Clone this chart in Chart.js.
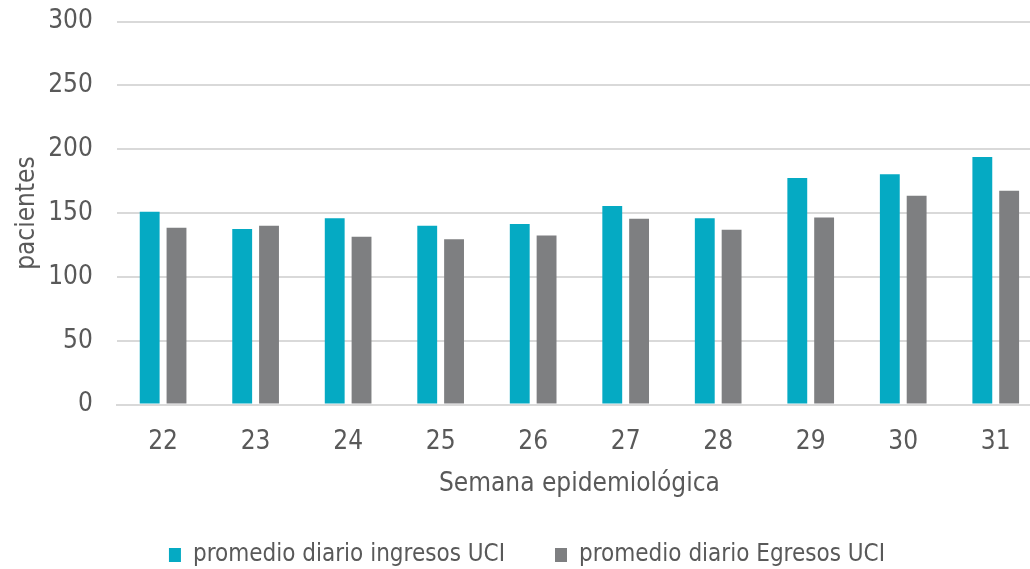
<!DOCTYPE html>
<html>
<head>
<meta charset="utf-8">
<script src="https://cdn.jsdelivr.net/npm/chart.js@4/dist/chart.umd.min.js"></script>
<style>
  html, body { margin: 0; padding: 0; background: #fff; overflow: hidden; }
  #wrap { position: relative; width: 1045px; height: 587px; margin-top: -18px; }
</style>
</head>
<body>
<div id="wrap"><canvas id="chart"></canvas></div>
<script>
const weeks = ["22", "23", "24", "25", "26", "27", "28", "29", "30", "31"];
const ingresos = [151, 137.5, 146, 140, 141.5, 155.5, 146, 177.5, 180.5, 194];
const egresos = [138.5, 140, 131.5, 129.5, 132.5, 145.5, 137, 146.5, 163.5, 167.5];
const yTicks = [0, 50, 100, 150, 200, 250, 300];

const FONT = "'Liberation Sans Narrow', 'DejaVu Sans Condensed', 'Open Sans', sans-serif";
const TEXT = "#595959";

const ctx = document.getElementById("chart").getContext("2d");
new Chart(ctx, {
  type: "bar",
  data: {
    labels: weeks,
    datasets: [
      {
        label: "promedio diario ingresos UCI",
        data: ingresos,
        backgroundColor: "#05aac3",
        barPercentage: 0.74,
        categoryPercentage: 0.58,
      },
      {
        label: "promedio diario Egresos UCI",
        data: egresos,
        backgroundColor: "#7e7f81",
        barPercentage: 0.74,
        categoryPercentage: 0.58,
      },
    ],
  },
  options: {
    responsive: true,
    maintainAspectRatio: false,
    animation: false,
    layout: { padding: { top: 0, right: 3, left: 12, bottom: -8 } },
    scales: {
      x: {
        grid: { display: false, drawTicks: false },
        border: { display: true, color: "#d9d9d9", width: 2 },
        ticks: { color: TEXT, font: { family: FONT, size: 26 }, padding: 22 },
        title: {
          display: true,
          text: "Semana epidemiológica",
          color: TEXT,
          font: { family: FONT, size: 26 },
          padding: { top: -11, bottom: -7 },
        },
      },
      y: {
        min: 0,
        max: 300,
        afterBuildTicks: (axis) => {
          axis.ticks = yTicks.map((v) => ({ value: v }));
        },
        grid: { color: "#d9d9d9", lineWidth: 2, drawTicks: false },
        border: { display: false },
        ticks: { color: TEXT, font: { family: FONT, size: 26 }, padding: 24 },
        title: {
          display: true,
          text: "pacientes",
          color: TEXT,
          font: { family: FONT, size: 26 },
          padding: { top: 0, bottom: -19 },
        },
      },
    },
    plugins: {
      legend: {
        position: "bottom",
        labels: {
          color: TEXT,
          font: { family: FONT, size: 24 },
          boxWidth: 12,
          boxHeight: 14,
          padding: 50,
        },
      },
      tooltip: { enabled: false },
    },
  },
});
</script>
</body>
</html>
